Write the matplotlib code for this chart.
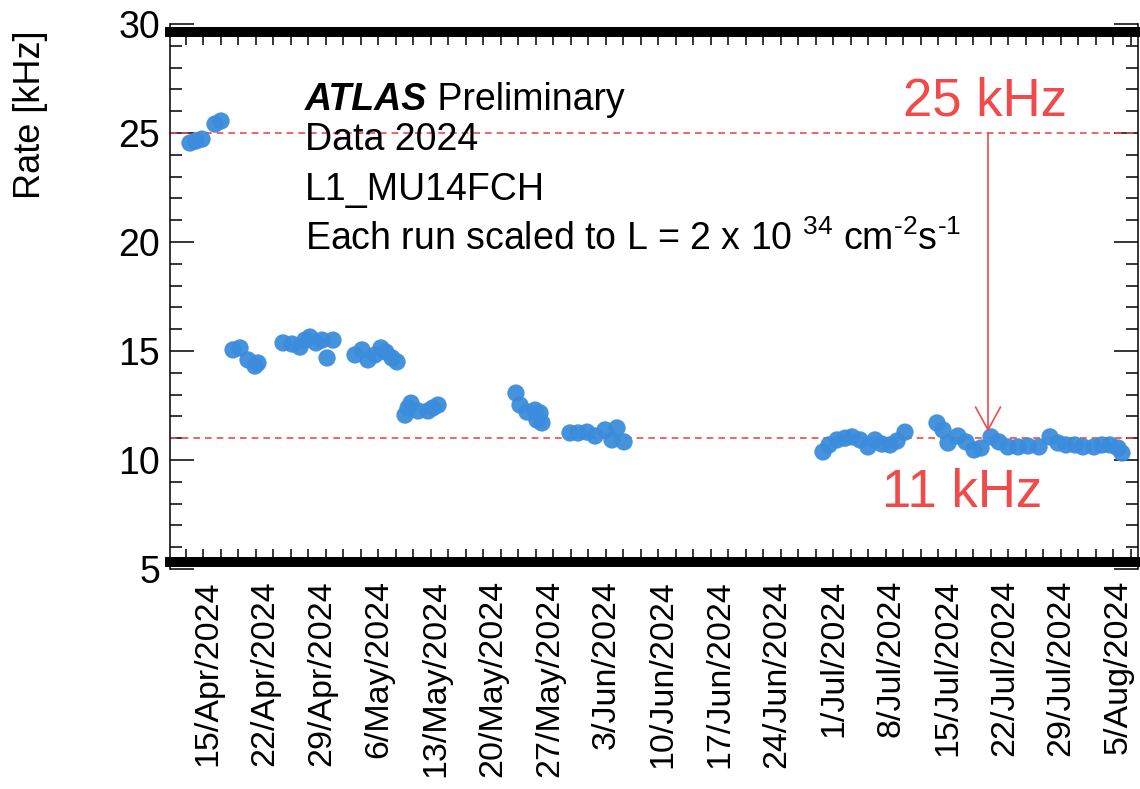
import matplotlib
matplotlib.use('Agg')
import matplotlib.pyplot as plt
import numpy as np

plt.rcParams['font.family'] = ['Liberation Sans', 'DejaVu Sans']
plt.rcParams['mathtext.fontset'] = 'custom'
plt.rcParams['mathtext.rm'] = 'Liberation Sans'
plt.rcParams['mathtext.it'] = 'Liberation Sans:italic'
plt.rcParams['mathtext.bf'] = 'Liberation Sans:bold'

# days since 15/Apr/2024 and L1_MU14FCH rate [kHz] per run
days = [-2.22, -1.48, -0.74, 0.86, 1.60,
        3.08, 3.94, 4.92, 5.78, 6.15,
        9.23, 10.34, 11.32, 11.94, 12.55, 13.29, 14.03, 14.65, 15.38,
        18.09, 18.95, 19.69, 20.55, 21.29, 21.90, 22.65, 23.26,
        24.25, 24.62, 24.98, 25.85, 27.08, 27.69, 28.31,
        37.90, 38.40, 39.26, 40.25, 40.49, 40.86, 41.10,
        44.55, 45.54, 46.65, 47.63, 48.86, 49.72, 50.34, 51.20,
        75.69, 76.43, 77.42, 78.40, 79.26, 80.25, 81.23, 82.09, 82.95, 83.94, 84.80, 85.78,
        89.72, 90.46, 91.08, 92.31, 93.29, 94.28, 95.14,
        96.37, 97.35, 98.46, 99.69, 100.92, 102.28, 103.63, 104.62, 105.60, 106.71, 107.69,
        109.05, 110.03, 111.02, 112.00, 112.49]
rate = [24.54, 24.63, 24.72, 25.41, 25.55,
        15.05, 15.14, 14.59, 14.31, 14.45,
        15.37, 15.32, 15.18, 15.50, 15.64, 15.37, 15.50, 14.68, 15.50,
        14.82, 15.05, 14.59, 14.82, 15.14, 14.95, 14.68, 14.50,
        12.06, 12.39, 12.61, 12.25, 12.25, 12.39, 12.52,
        13.07, 12.52, 12.20, 12.29, 11.83, 12.16, 11.70,
        11.24, 11.24, 11.28, 11.10, 11.38, 10.92, 11.47, 10.83,
        10.37, 10.69, 10.92, 11.00, 11.06, 10.92, 10.60, 10.92, 10.73, 10.69, 10.87, 11.28,
        11.70, 11.38, 10.78, 11.10, 10.83, 10.46, 10.55,
        11.06, 10.83, 10.60, 10.60, 10.64, 10.60, 11.06, 10.78, 10.69, 10.69, 10.60,
        10.60, 10.69, 10.69, 10.55, 10.32]

week_labels = ['15/Apr/2024', '22/Apr/2024', '29/Apr/2024', '6/May/2024', '13/May/2024',
               '20/May/2024', '27/May/2024', '3/Jun/2024', '10/Jun/2024', '17/Jun/2024',
               '24/Jun/2024', '1/Jul/2024', '8/Jul/2024', '15/Jul/2024', '22/Jul/2024',
               '29/Jul/2024', '5/Aug/2024']
week_pos = [7 * i for i in range(len(week_labels))]

ref_high = 25
ref_low = 11
arrow_day = 96

W, H = 1140, 789
red = '#f04a4a'
blue = '#3b8cdc'

fig = plt.figure(figsize=(W / 100, H / 100), dpi=100)
ax = fig.add_axes([170 / W, 1 - 569 / H, 968 / W, 545 / H])

# thick ROOT-style frame bars drawn just inside the top and bottom edges
ax.spines['top'].set_position(('outward', -5.8))
ax.spines['bottom'].set_position(('outward', -5.0))
ax.spines['top'].set_linewidth(7.2)
ax.spines['bottom'].set_linewidth(7.2)
for s in ['left', 'right']:
    ax.spines[s].set_linewidth(1.1)

ax.scatter(days, rate, s=155, color=blue, edgecolors='none', alpha=0.95, zorder=3)

ax.axhline(ref_high, color=red, lw=1.2, ls=(0, (4, 3)), zorder=2)
ax.axhline(ref_low, color=red, lw=1.2, ls=(0, (4, 3)), zorder=2)
ax.annotate('', xy=(arrow_day, 11.3), xytext=(arrow_day, ref_high),
            arrowprops=dict(arrowstyle='->,head_length=0.55,head_width=0.3',
                            color=red, lw=1.2, mutation_scale=30,
                            shrinkA=0, shrinkB=0), zorder=4)

ax.set_xlim(-4.68, 114.46)
ax.set_ylim(5, 30)

ax.set_yticks([5, 10, 15, 20, 25, 30])
ax.set_yticks(np.arange(6, 30, 1), minor=True)
ax.tick_params(axis='y', which='major', direction='in', length=17, width=1.1,
               labelsize=27, pad=7, left=True, right=True)
ax.tick_params(axis='y', which='minor', direction='in', length=8.5, width=1.1,
               left=True, right=True)

ax.set_xticks(week_pos)
ax.set_xticklabels(week_labels)
ax.set_xticks(np.arange(-4.68 + 16 / 8.125, 114.46, 17.5 / 8.125), minor=True)
ax.tick_params(axis='x', which='major', length=0, labelsize=24.5, pad=13,
               labelrotation=90)
ax.tick_params(axis='x', which='minor', direction='in', length=9.5, width=1.1,
               top=True, bottom=True)
for lab in ax.get_xticklabels():
    lab.set_ha('center')
    lab.set_va('top')

fig.text(30 / W, 1 - 30 / H, 'Rate [kHz]', rotation=90, ha='center', va='top', fontsize=26)

t = fig.text(305 / W, 1 - 110 / H, 'ATLAS', fontsize=27, fontweight='bold', style='italic')
ax.annotate(' Preliminary', xy=(1, 0), xycoords=t, va='bottom', fontsize=27)
fig.text(305 / W, 1 - 150 / H, 'Data 2024', fontsize=27)
fig.text(305 / W, 1 - 200 / H, 'L1_MU14FCH', fontsize=27)
fig.text(305 / W, 1 - 250 / H, 'Each run scaled to L = 2 x 10 $^{34}$ cm$^{\u2010 2}$s$^{\u2010 1}$',
         fontsize=27)

fig.text(903 / W, 1 - 115 / H, '25 kHz', color=red, fontsize=38)
fig.text(882 / W, 1 - 507 / H, '11 kHz', color=red, fontsize=38)

fig.savefig('out.png', dpi=100)
